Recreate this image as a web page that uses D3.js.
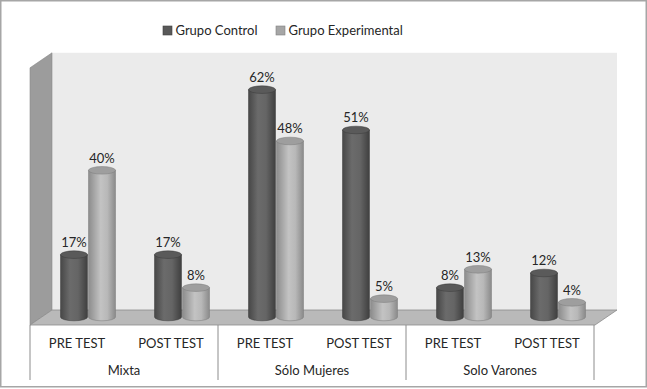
<!DOCTYPE html>
<meta charset="utf-8">
<svg width="647" height="389"></svg>
<script src="https://d3js.org/d3.v7.min.js"></script>
<style>
  body { margin: 0; background: #fff; }
  text { font-family: Lato, "Open Sans", sans-serif; fill: #262626; }
</style>
<script>
var groups = ["Mixta", "Sólo Mujeres", "Solo Varones"];
var tests = ["PRE TEST", "POST TEST"];
var series = ["Grupo Control", "Grupo Experimental"];
var control = [17, 17, 62, 51, 8, 12];
var experimental = [40, 8, 48, 5, 13, 4];

var svg = d3.select("svg");

// frame around the whole picture
svg.append("rect")
    .attr("x", 0.75).attr("y", 0.75)
    .attr("width", 645.5).attr("height", 386)
    .attr("fill", "#fff")
    .attr("stroke", "#a6a6a6")
    .attr("stroke-width", 1.5);

// front plane of the 3d box, depth offset to the back
var left = 30, right = 595, floorY = 325;
var dX = 22, dY = 15;

var x0 = d3.scaleBand().domain(groups).range([left, right - 1]);
var x1 = d3.scaleBand().domain(tests).range([0, x0.bandwidth()]);

// bars sit at mid depth
var y = d3.scaleLinear().domain([0, 70]).range([floorY - dY / 2 - 0.5, floorY - dY / 2 - 0.5 - 70 * 3.667]);
var wallTop = y(70) - dY / 2;

var g = svg.append("g");

// back wall
g.append("rect")
    .attr("x", left + dX).attr("y", wallTop)
    .attr("width", right - left).attr("height", floorY - dY - wallTop)
    .attr("fill", "#ebebeb");

// left wall
g.append("path")
    .attr("d", "M" + left + "," + (wallTop + dY) + "L" + (left + dX) + "," + wallTop +
               "L" + (left + dX) + "," + (floorY - dY) + "L" + left + "," + floorY + "Z")
    .attr("fill", "#9c9c9c")
    .attr("stroke", "#8a8a8a")
    .attr("stroke-width", 0.6);

// floor
g.append("path")
    .attr("d", "M" + left + "," + floorY + "L" + (left + dX) + "," + (floorY - dY) +
               "L" + (right + dX) + "," + (floorY - dY) + "L" + right + "," + floorY + "Z")
    .attr("fill", "#b9b9b9")
    .attr("stroke", "#8c8c8c")
    .attr("stroke-width", 0.8);

// gradients for the cylinders
var defs = svg.append("defs");
function grad(id, stops) {
  var lg = defs.append("linearGradient").attr("id", id)
      .attr("x1", "0%").attr("x2", "100%").attr("y1", "0%").attr("y2", "0%");
  stops.forEach(function(s) {
    lg.append("stop").attr("offset", s[0]).attr("stop-color", s[1]);
  });
}
grad("gDark", [["0%", "#474747"], ["35%", "#6b6b6b"], ["65%", "#656565"], ["100%", "#3f3f3f"]]);
grad("gLight", [["0%", "#8c8c8c"], ["45%", "#c3c3c3"], ["70%", "#b8b8b8"], ["100%", "#8a8a8a"]]);

var bars = [];
groups.forEach(function(gr, i) {
  tests.forEach(function(t, j) {
    var k = i * 2 + j;
    var cx = x0(gr) + x1(t) + x1.bandwidth() / 2 + dX / 2;
    bars.push({ v: control[k], cx: cx - 14, s: 0 });
    bars.push({ v: experimental[k], cx: cx + 14, s: 1 });
  });
});

var rx = 13.5, ry = 3.8;
var base = y(0);

var cyl = g.selectAll(".cyl").data(bars).enter().append("g").attr("class", "cyl");

cyl.append("path")
    .attr("d", function(d) {
      var t = y(d.v);
      return "M" + (d.cx - rx) + "," + t + "L" + (d.cx - rx) + "," + base +
             "A" + rx + "," + ry + " 0 0 0 " + (d.cx + rx) + "," + base +
             "L" + (d.cx + rx) + "," + t + "Z";
    })
    .attr("fill", function(d) { return d.s ? "url(#gLight)" : "url(#gDark)"; })
    .attr("stroke", function(d) { return d.s ? "#7a7a7a" : "#3a3a3a"; })
    .attr("stroke-width", 0.5);

cyl.append("ellipse")
    .attr("cx", function(d) { return d.cx; })
    .attr("cy", function(d) { return y(d.v); })
    .attr("rx", rx).attr("ry", ry)
    .attr("fill", function(d) { return d.s ? "#9e9e9e" : "#5a5a5a"; })
    .attr("stroke", function(d) { return d.s ? "#7a7a7a" : "#3a3a3a"; })
    .attr("stroke-width", 0.5);

cyl.append("text")
    .attr("x", function(d) { return d.cx; })
    .attr("y", function(d) { return y(d.v) - 7.5; })
    .attr("text-anchor", "middle")
    .style("font-size", "13px")
    .text(function(d) { return d.v + "%"; });

// category table below the floor
var axis = svg.append("g");
var seps = groups.map(function(gr) { return x0(gr); }).concat([right - 1]);
axis.selectAll("line").data(seps).enter().append("line")
    .attr("x1", function(d) { return d; }).attr("x2", function(d) { return d; })
    .attr("y1", floorY).attr("y2", 380)
    .attr("stroke", "#8c8c8c").attr("stroke-width", 1);

groups.forEach(function(gr) {
  tests.forEach(function(t) {
    axis.append("text")
        .attr("x", x0(gr) + x1(t) + x1.bandwidth() / 2)
        .attr("y", 348)
        .attr("text-anchor", "middle")
        .style("font-size", "13px")
        .text(t);
  });
  axis.append("text")
      .attr("x", x0(gr) + x0.bandwidth() / 2)
      .attr("y", 375)
      .attr("text-anchor", "middle")
      .style("font-size", "13px")
      .text(gr);
});

// legend
var legX = [163, 276];
var leg = svg.append("g").selectAll("g").data(series).enter().append("g")
    .attr("transform", function(d, i) { return "translate(" + legX[i] + ",26)"; });
leg.append("rect")
    .attr("width", 9).attr("height", 9)
    .attr("fill", function(d, i) { return i ? "#a6a6a6" : "#595959"; })
    .attr("stroke", function(d, i) { return i ? "#808080" : "#404040"; })
    .attr("stroke-width", 0.6);
leg.append("text")
    .attr("x", 12.5).attr("y", 9)
    .style("font-size", "13px")
    .text(function(d) { return d; });
</script>
